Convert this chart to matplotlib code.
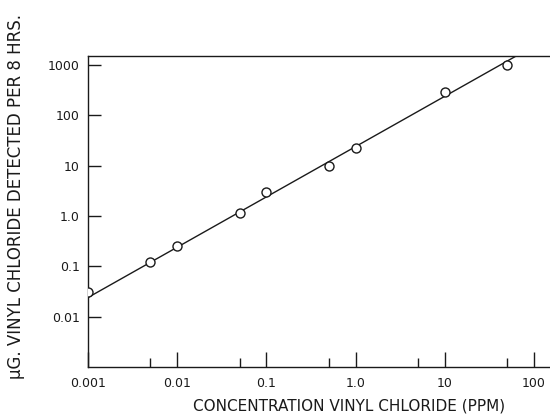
#!/usr/bin/env python
# -*- coding: utf-8 -*-

import matplotlib
matplotlib.use('Agg')
import matplotlib.pyplot as plt

# measured points (ppm vs ug detected per 8 hrs)
conc_ppm = [0.001, 0.005, 0.01, 0.05, 0.1, 0.5, 1.0, 10, 50]
ug_detected = [0.031, 0.12, 0.25, 1.15, 3.0, 10, 22, 285, 1000]

# straight line drawn through the points
fit_x = [0.001, 63]
fit_y = [0.024, 1510]

x_ticks = [0.001, 0.01, 0.1, 1.0, 10, 100]
x_tick_labels = ['0.001', '0.01', '0.1', '1.0', '10', '100']
x_minor = [0.005, 0.05, 0.5, 5, 50]
y_ticks = [0.01, 0.1, 1.0, 10, 100, 1000]
y_tick_labels = ['0.01', '0.1', '1.0', '10', '100', '1000']


def run():
    ink = '#1a1a1a'
    fig = plt.figure(figsize=(5.5, 4.15), dpi=100)
    ax = fig.add_axes([0.16, 0.1157, 0.84, 0.7493])
    ax.set_xscale('log')
    ax.set_yscale('log')
    ax.set_xlim(0.001, 151)
    ax.set_ylim(0.001, 1510)

    ax.plot(fit_x, fit_y, color=ink, lw=1.0, zorder=2)
    ax.plot(conc_ppm, ug_detected, 'o', ms=6.5, mfc='white', mec=ink, mew=1.0, zorder=3)

    ax.spines['right'].set_visible(False)
    for s in ['left', 'bottom', 'top']:
        ax.spines[s].set_linewidth(1.0)
        ax.spines[s].set_color(ink)

    ax.set_xticks(x_ticks)
    ax.set_xticklabels(x_tick_labels)
    ax.set_xticks(x_minor, minor=True)
    ax.set_xticklabels([], minor=True)
    ax.set_yticks(y_ticks)
    ax.set_yticklabels(y_tick_labels)
    ax.set_yticks([], minor=True)
    ax.tick_params(axis='x', which='major', direction='in', length=11, width=1.0,
                   pad=7, labelsize=9, colors=ink)
    ax.tick_params(axis='x', which='minor', direction='in', length=6.5, width=1.0, colors=ink)
    ax.tick_params(axis='y', which='major', direction='in', length=9, width=1.0,
                   pad=6, labelsize=9, colors=ink)

    ax.set_xlabel('CONCENTRATION VINYL CHLORIDE (PPM)', fontsize=11, color=ink,
                  va='center')
    ax.xaxis.set_label_coords(0.565, -0.125)
    ax.set_ylabel('\u00b5G. VINYL CHLORIDE DETECTED PER 8 HRS.', fontsize=12, color=ink,
                  va='center')
    ax.yaxis.set_label_coords(-(88 - 16) / 462.0, 0.547)

    fig.savefig('out.png', dpi=100)


if __name__ == "__main__":
    run()
